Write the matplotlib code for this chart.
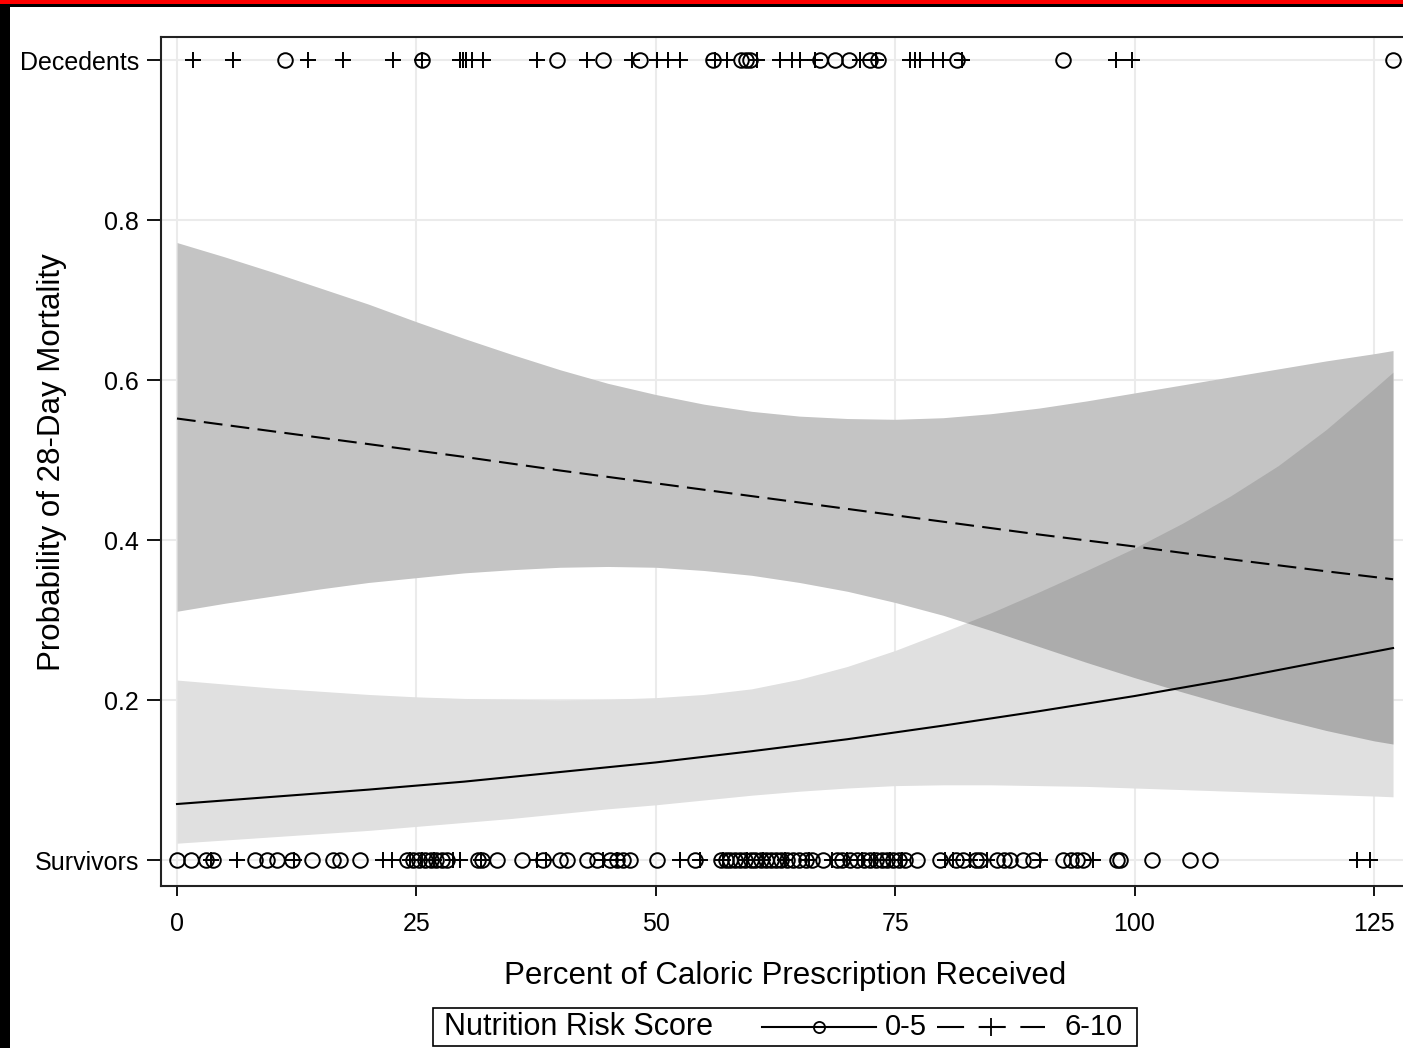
import matplotlib
matplotlib.use("Agg")
from matplotlib import pyplot as plt
from matplotlib.lines import Line2D
from matplotlib.patches import Rectangle
import numpy as np

plt.rcParams['font.family'] = ['Liberation Sans', 'DejaVu Sans']

# percent of caloric prescription where the confidence bands were read
band_pct = [0, 5, 10, 15, 20, 25, 30, 35, 40, 45, 50, 55, 60, 65, 70, 75, 80, 85, 90, 95, 100,
            105, 110, 115, 120, 125, 127]

# NRS 0-5 confidence band
low_upper = [0.225, 0.220, 0.215, 0.211, 0.207, 0.204, 0.202, 0.201, 0.200, 0.201, 0.203, 0.207,
             0.214, 0.226, 0.242, 0.262, 0.285, 0.309, 0.335, 0.362, 0.390, 0.421, 0.455, 0.493,
             0.538, 0.589, 0.610]
low_lower = [0.021, 0.025, 0.029, 0.033, 0.037, 0.042, 0.047, 0.052, 0.058, 0.064, 0.069, 0.075,
             0.081, 0.086, 0.090, 0.093, 0.094, 0.094, 0.093, 0.092, 0.090, 0.088, 0.086, 0.084,
             0.082, 0.080, 0.079]

# NRS 6-10 confidence band
high_upper = [0.772, 0.754, 0.735, 0.715, 0.695, 0.673, 0.652, 0.632, 0.613, 0.596, 0.582, 0.570,
              0.561, 0.555, 0.552, 0.551, 0.553, 0.558, 0.565, 0.574, 0.584, 0.594, 0.604, 0.614,
              0.624, 0.633, 0.637]
high_lower = [0.311, 0.321, 0.330, 0.339, 0.347, 0.353, 0.359, 0.363, 0.366, 0.367, 0.366, 0.362,
              0.356, 0.347, 0.336, 0.322, 0.306, 0.287, 0.267, 0.247, 0.228, 0.210, 0.193, 0.177,
              0.162, 0.149, 0.145]

# predicted probability of death
fit_pct = [0, 10, 20, 30, 40, 50, 60, 70, 80, 90, 100, 110, 120, 127]
low_fit = [0.070, 0.079, 0.088, 0.098, 0.110, 0.122, 0.136, 0.151, 0.168, 0.186, 0.205, 0.226, 0.249, 0.265]
high_fit = [0.552, 0.536, 0.520, 0.504, 0.487, 0.471, 0.455, 0.439, 0.423, 0.407, 0.392, 0.376, 0.361, 0.351]

# observed patients (outcome 1 = died, 0 = survived)
dead_low = [11.3, 25.6, 39.7, 44.5, 48.4, 56.0, 58.9, 59.4, 59.8, 67.2, 68.7, 70.2, 72.4, 73.2,
            81.5, 92.5, 127.0]
dead_high = [1.7, 5.8, 13.7, 17.3, 22.6, 25.6, 29.6, 29.9, 30.2, 30.8, 32.0, 37.6, 42.8, 47.5,
             50.1, 51.3, 52.5, 56.2, 57.4, 60.6, 63.0, 64.2, 65.1, 66.6, 71.3, 73.0, 76.6, 77.1,
             77.6, 79.0, 80.0, 82.0, 98.1, 99.7]
surv_low = [0.0, 1.5, 3.0, 3.8, 8.1, 9.4, 10.4, 12.0, 14.1, 16.3, 17.0, 19.1, 24.0, 24.6, 25.3,
            25.9, 26.5, 27.1, 27.7, 28.2, 31.4, 31.9, 33.4, 36.0, 38.2, 40.0, 40.7, 42.8, 43.9,
            45.2, 46.0, 46.6, 47.3, 50.1, 54.1, 56.8, 57.3, 57.8, 58.3, 58.8, 59.3, 59.9, 60.4,
            61.0, 61.5, 62.0, 62.6, 63.1, 63.7, 64.3, 65.0, 65.7, 66.3, 67.5, 68.9, 69.5, 70.3,
            71.0, 71.8, 72.4, 73.0, 73.6, 74.2, 74.8, 75.4, 76.0, 77.3, 79.7, 81.4, 82.1, 83.4,
            83.9, 85.6, 86.4, 87.0, 88.4, 89.4, 92.5, 93.4, 94.0, 94.6, 98.2, 98.5, 101.8,
            105.8, 107.9]
surv_high = [3.6, 6.3, 12.2, 21.5, 22.5, 24.3, 25.6, 26.8, 28.8, 29.6, 31.7, 37.6, 38.5, 44.5,
             46.0, 52.5, 54.6, 57.0, 59.5, 61.2, 63.5, 66.0, 68.4, 70.0, 71.5, 72.8, 74.5, 75.7,
             80.2, 81.0, 82.8, 84.6, 90.1, 95.7, 123.2, 124.6]

y_ticks = [0, 0.2, 0.4, 0.6, 0.8, 1.0]
y_tick_labels = ['Survivors', '0.2', '0.4', '0.6', '0.8', 'Decedents']
x_ticks = [0, 25, 50, 75, 100, 125]

W, H = 1403, 1048
fig = plt.figure(figsize=(W / 100, H / 100), dpi=100)

def fx(px):
    return px / W

def fy(py):
    return 1 - py / H

ax = fig.add_axes([fx(161), fy(886), fx(1410 - 161), (886 - 37) / H])
ax.set_xlim(-1.67, 128.77)
ax.set_ylim(-0.0325, 1.029)

ax.grid(True, color='#ebebeb', linewidth=1.5)
ax.set_axisbelow(True)

# white underlay hides the grid, then translucent black so the overlap darkens
for lo, hi in [(low_lower, low_upper), (high_lower, high_upper)]:
    ax.fill_between(band_pct, lo, hi, color='white', linewidth=0, zorder=0.8)
ax.fill_between(band_pct, low_lower, low_upper, color='black', alpha=0.12, linewidth=0, zorder=1)
ax.fill_between(band_pct, high_lower, high_upper, color='black', alpha=0.23, linewidth=0, zorder=1)

ax.plot(fit_pct, low_fit, color='black', linewidth=1.5, zorder=3)
ax.plot(fit_pct, high_fit, color='black', linewidth=1.5, dashes=(9, 4), zorder=3)

mk = dict(linestyle='none', color='black', zorder=4, clip_on=False)
ax.plot(dead_low, [1] * len(dead_low), marker='o', ms=10.5, mfc='none', mew=1.4, **mk)
ax.plot(surv_low, [0] * len(surv_low), marker='o', ms=10.5, mfc='none', mew=1.4, **mk)
ax.plot(dead_high, [1] * len(dead_high), marker='+', ms=12, mew=1.4, **mk)
ax.plot(surv_high, [0] * len(surv_high), marker='+', ms=12, mew=1.4, **mk)

ax.set_yticks(y_ticks)
ax.set_yticklabels(y_tick_labels)
ax.set_xticks(x_ticks)
ax.tick_params(axis='both', direction='out', width=1.3, labelsize=18)
ax.tick_params(axis='y', length=10, pad=6)
ax.tick_params(axis='x', length=7.5, pad=11)
for s in ax.spines.values():
    s.set_linewidth(1.5)
    s.set_color('#222222')

fig.text(fx(785), fy(976), 'Percent of Caloric Prescription Received', fontsize=22.5,
         ha='center', va='center')
fig.text(fx(52), fy(462), 'Probability of 28-Day Mortality', fontsize=22.5,
         rotation=90, ha='center', va='center')

# legend box
fig.add_artist(Rectangle((fx(433), fy(1046)), fx(1137 - 433), (1046 - 1008) / H,
                         transform=fig.transFigure, facecolor='white', edgecolor='black',
                         linewidth=1.2))
fig.text(fx(444), fy(1027), 'Nutrition Risk Score', fontsize=22, ha='left', va='center')
fig.add_artist(Line2D([fx(762), fx(876)], [fy(1027)] * 2, color='black', linewidth=1.5,
                      transform=fig.transFigure))
fig.add_artist(Line2D([fx(819)], [fy(1027)], color='black', marker='o', ms=8, mfc='none',
                      mew=1.3, transform=fig.transFigure))
fig.text(fx(885), fy(1027), '0-5', fontsize=21, ha='left', va='center')
fig.add_artist(Line2D([fx(937), fx(1045)], [fy(1027)] * 2, color='black', linewidth=1.5,
                      dashes=(13, 7), transform=fig.transFigure))
fig.add_artist(Line2D([fx(991)], [fy(1027)], color='black', marker='+', ms=13,
                      mew=1.3, transform=fig.transFigure))
fig.text(fx(1065), fy(1027), '6-10', fontsize=21, ha='left', va='center')

# red and black frame edges
fig.add_artist(Rectangle((0, fy(7)), 1, 3 / H, transform=fig.transFigure,
                         facecolor='black', edgecolor='none'))
fig.add_artist(Rectangle((0, fy(4)), 1, 4 / H, transform=fig.transFigure,
                         facecolor='#ff0000', edgecolor='none'))
fig.add_artist(Rectangle((0, 0), fx(10), fy(4), transform=fig.transFigure,
                         facecolor='black', edgecolor='none'))

fig.savefig('out.png', dpi=100)
